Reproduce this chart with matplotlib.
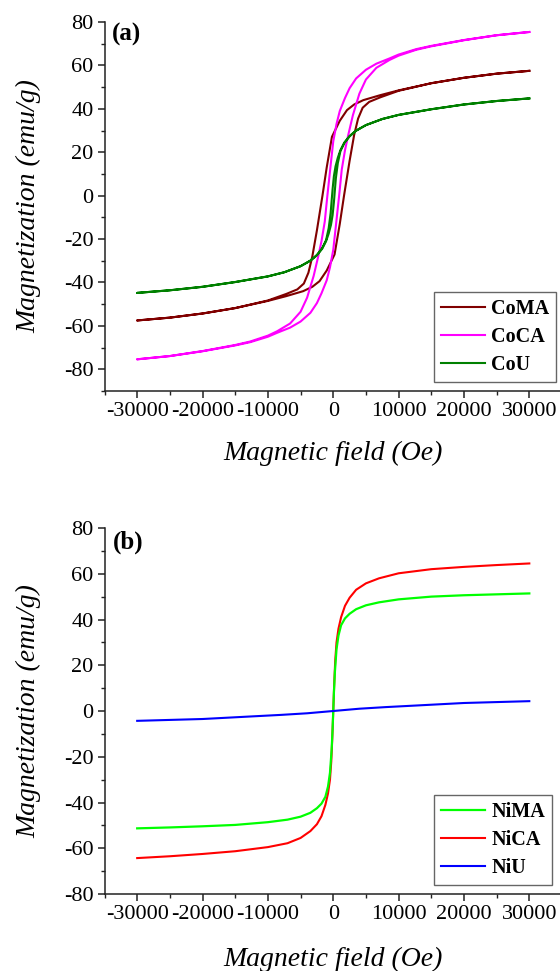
import matplotlib
matplotlib.use("Agg")
import matplotlib.pyplot as plt
from matplotlib.ticker import MultipleLocator

plt.rcParams['font.family'] = ['Liberation Serif', 'DejaVu Serif']
plt.rcParams['axes.unicode_minus'] = False

# ---- panel (a): Co samples, descending + ascending branches ----
coma_h_down = [30000, 25000, 20000, 15000, 10000, 7200, 4600, 3200, 2100, 1000, 300, -200, -1000, -1650,
               -2500, -3200, -3800, -4500, -5500, -7200, -10000, -15000, -20000, -25000, -30000]
coma_m_down = [57.5, 56.2, 54.3, 51.8, 48.5, 46.3, 44.0, 42.0, 39.4, 34.5, 30.2, 27.1, 13.0, 0.0,
               -16.0, -28.0, -35.5, -40.5, -43.2, -45.3, -48.3, -51.8, -54.3, -56.2, -57.5]
coma_h_up = [-30000, -25000, -20000, -15000, -10000, -7200, -4600, -3200, -2100, -1000, -300, 200, 1000, 1650,
             2500, 3200, 3800, 4500, 5500, 7200, 10000, 15000, 20000, 25000, 30000]
coma_m_up = [-57.5, -56.2, -54.3, -51.8, -48.5, -46.3, -44.0, -42.0, -39.4, -34.5, -30.2, -27.1, -13.0, 0.0,
             16.0, 28.0, 35.5, 40.5, 43.2, 45.3, 48.3, 51.8, 54.3, 56.2, 57.5]

coca_h_down = [30000, 25000, 20000, 15000, 12700, 10000, 8600, 6600, 5000, 3500, 2500, 1800, 1000, 500, 0,
               -400, -900, -1300, -1800, -2300, -3000, -4000, -5000, -6600, -8600, -10000, -12700, -15000,
               -20000, -25000, -30000]
coca_m_down = [75.4, 73.9, 71.7, 69.0, 67.5, 65.0, 63.2, 60.8, 58.0, 54.0, 49.5, 45.0, 39.0, 33.0, 25.0,
               14.0, 0.0, -12.0, -21.0, -28.0, -37.0, -47.0, -53.5, -58.9, -62.5, -64.5, -67.2, -68.8,
               -71.6, -73.9, -75.4]
coca_h_up = [-30000, -25000, -20000, -15000, -12700, -10000, -8600, -6600, -5000, -3500, -2500, -1800, -1000,
             -500, 0, 400, 900, 1300, 1800, 2300, 3000, 4000, 5000, 6600, 8600, 10000, 12700, 15000,
             20000, 25000, 30000]
coca_m_up = [-75.4, -73.9, -71.7, -69.0, -67.5, -65.0, -63.2, -60.8, -58.0, -54.0, -49.5, -45.0, -39.0,
             -33.0, -25.0, -14.0, 0.0, 12.0, 21.0, 28.0, 37.0, 47.0, 53.5, 58.9, 62.5, 64.5, 67.2, 68.8,
             71.6, 73.9, 75.4]

cou_h_down = [30000, 25000, 20000, 15000, 10000, 7500, 5000, 3500, 2500, 1700, 1100, 700, 350, 100, -100,
              -250, -400, -700, -1100, -1700, -2500, -3500, -5000, -7500, -10000, -15000, -20000, -25000, -30000]
cou_m_down = [44.8, 43.6, 42.0, 39.8, 37.2, 35.3, 32.5, 30.0, 27.5, 24.5, 21.0, 17.5, 13.5, 9.0, 3.0,
              -2.5, -8.0, -15.0, -20.5, -24.2, -27.3, -29.9, -32.5, -35.3, -37.2, -39.8, -42.0, -43.6, -44.8]
cou_h_up = [-30000, -25000, -20000, -15000, -10000, -7500, -5000, -3500, -2500, -1700, -1100, -700, -350, -100,
            100, 250, 400, 700, 1100, 1700, 2500, 3500, 5000, 7500, 10000, 15000, 20000, 25000, 30000]
cou_m_up = [-44.8, -43.6, -42.0, -39.8, -37.2, -35.3, -32.5, -30.0, -27.5, -24.5, -21.0, -17.5, -13.5, -9.0,
            -3.0, 2.5, 8.0, 15.0, 20.5, 24.2, 27.3, 29.9, 32.5, 35.3, 37.2, 39.8, 42.0, 43.6, 44.8]

# ---- panel (b): Ni samples (loops too narrow to separate branches) ----
nica_h = [-30000, -25000, -20000, -15000, -10000, -7000, -5000, -3500, -2500, -1800, -1200, -800, -500, -300,
          -150, 0, 150, 300, 500, 800, 1200, 1800, 2500, 3500, 5000, 7000, 10000, 15000, 20000, 25000, 30000]
nica_m = [-64.3, -63.5, -62.5, -61.3, -59.5, -57.8, -55.5, -52.5, -49.5, -46.0, -41.0, -36.0, -30.0, -22.0,
          -12.0, 0.0, 12.0, 22.0, 30.0, 36.0, 41.0, 46.0, 49.5, 53.0, 55.8, 58.0, 60.2, 62.0, 63.0, 63.8, 64.5]
nima_h = [-30000, -25000, -20000, -15000, -10000, -7000, -5000, -3500, -2500, -1800, -1200, -800, -500, -250,
          -100, 0, 100, 250, 500, 800, 1200, 1800, 2500, 3500, 5000, 7000, 10000, 15000, 20000, 25000, 30000]
nima_m = [-51.3, -50.9, -50.4, -49.8, -48.6, -47.5, -46.2, -44.5, -42.5, -40.5, -37.5, -33.0, -27.0, -17.0,
          -8.0, 0.0, 8.0, 17.0, 27.0, 33.0, 37.5, 40.5, 42.5, 44.5, 46.2, 47.5, 48.8, 50.0, 50.6, 51.0, 51.4]
niu_h = [-30000, -20000, -12700, -8000, -4000, 0, 4000, 8000, 12700, 20000, 30000]
niu_m = [-4.3, -3.5, -2.4, -1.7, -1.0, 0.0, 1.0, 1.7, 2.4, 3.5, 4.3]

x_ticks = [-30000, -20000, -10000, 0, 10000, 20000, 30000]


def style_axes(ax, ylo, yhi):
    ax.set_xlim(-35000, 35000)
    ax.set_ylim(ylo, yhi)
    ax.set_xticks(x_ticks)
    ax.xaxis.set_minor_locator(MultipleLocator(5000))
    ax.set_yticks(range(-80, 81, 20))
    ax.yaxis.set_minor_locator(MultipleLocator(10))
    for s in ("top", "right"):
        ax.spines[s].set_visible(False)
    for s in ("left", "bottom"):
        ax.spines[s].set_linewidth(1.1)
        ax.spines[s].set_color("#222222")
    ax.tick_params(which="major", direction="out", length=5, width=1.1, labelsize=16,
                   color="#222222", pad=3)
    ax.tick_params(which="minor", direction="out", length=3, width=1.0, color="#222222")
    ax.set_xlabel("Magnetic field (Oe)", fontsize=20, style="italic")
    ax.set_ylabel("Magnetization (emu/g)", fontsize=20, style="italic")
    ax.yaxis.set_label_coords(-0.139, 0.5)


def add_legend(ax, handles):
    leg = ax.legend(handles=handles, loc="lower left", bbox_to_anchor=(0.72, 0.024),
                    borderaxespad=0, prop={"weight": "bold", "size": 14.5},
                    handlelength=2.2, handletextpad=0.3, labelspacing=0.4,
                    borderpad=0.35, fancybox=False, framealpha=1, edgecolor="#666666")
    leg.get_frame().set_linewidth(1.0)
    leg.set_clip_on(False)


fig = plt.figure(figsize=(5.6, 9.71), dpi=100)

ax_a = fig.add_axes([104.5 / 560, 1 - 391 / 971, 457.5 / 560, 369 / 971])
la, = ax_a.plot(coma_h_down + coma_h_up, coma_m_down + coma_m_up, color="#800000", lw=1.5, label="CoMA")
lb, = ax_a.plot(coca_h_down + coca_h_up, coca_m_down + coca_m_up, color="#ff00ff", lw=1.5, label="CoCA")
lc, = ax_a.plot(cou_h_down + cou_h_up, cou_m_down + cou_m_up, color="#008000", lw=1.5, label="CoU")
style_axes(ax_a, -90, 80)
ax_a.xaxis.set_label_coords(0.5, -0.135)
ax_a.text(0.016, 0.967, "(a)", transform=ax_a.transAxes, fontsize=18, fontweight="bold", va="center")
add_legend(ax_a, [la, lb, lc])

ax_b = fig.add_axes([104.5 / 560, 1 - 894 / 971, 457.5 / 560, 366 / 971])
l2, = ax_b.plot(nica_h, nica_m, color="#ff0000", lw=1.5, label="NiCA")
l1, = ax_b.plot(nima_h, nima_m, color="#00ff00", lw=1.6, label="NiMA")
l3, = ax_b.plot(niu_h, niu_m, color="#0000ff", lw=1.5, label="NiU")
style_axes(ax_b, -80, 80)
ax_b.xaxis.set_label_coords(0.5, -0.145)
ax_b.text(0.019, 0.962, "(b)", transform=ax_b.transAxes, fontsize=18, fontweight="bold", va="center")
add_legend(ax_b, [l1, l2, l3])

fig.savefig("out.png", dpi=100)
